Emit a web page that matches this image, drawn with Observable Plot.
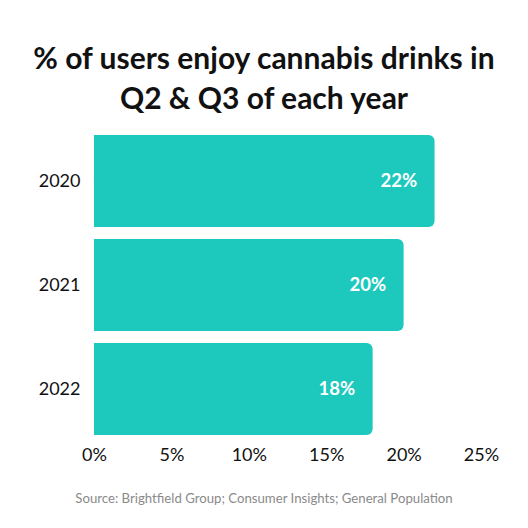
<!DOCTYPE html>
<html>
<head>
<meta charset="utf-8">
<script src="https://cdn.jsdelivr.net/npm/d3@7"></script>
<script src="https://cdn.jsdelivr.net/npm/@observablehq/plot@0.6"></script>
<style>
  html, body { margin: 0; padding: 0; background: #fff; }
  #wrap { width: 528px; height: 528px; position: relative; font-family: Lato, sans-serif; }
  #title { position: absolute; top: 37px; left: 0; width: 528px; text-align: center;
           font-weight: 700; font-size: 30px; line-height: 40px; color: #111; }
  #chart { position: absolute; top: 120px; left: 0; }
  #caption { position: absolute; top: 490px; left: 0; width: 528px; text-align: center;
             font-size: 13.2px; color: #8a8a8a; }
</style>
</head>
<body>
<div id="wrap">
  <div id="title">% of users enjoy cannabis drinks in<br>Q2 &amp; Q3 of each year</div>
  <div id="chart"></div>
  <div id="caption">Source: Brightfield Group; Consumer Insights; General Population</div>
</div>
<script>
const years = ["2020", "2021", "2022"];
const shares = [22, 20, 18];
const xTicks = [0, 5, 10, 15, 20, 25];

const data = years.map((y, i) => ({year: y, value: shares[i]}));
const barColor = "#1dc8bc";

const plot = Plot.plot({
  width: 528,
  height: 360,
  marginLeft: 94,
  marginRight: 47,
  marginTop: 14,
  marginBottom: 44,
  style: {fontFamily: "Lato, sans-serif", fontSize: "18px", color: "#111", background: "transparent"},
  x: {domain: [0, 25], ticks: xTicks, tickFormat: d => d + "%", tickSize: 0, tickPadding: 12, label: null},
  y: {domain: years, paddingInner: 0.115, paddingOuter: 0, tickSize: 0, tickPadding: 14, label: null},
  marks: [
    Plot.barX(data, {x1: 0, x2: "value", y: "year", fill: barColor, rx: 6}),
    Plot.barX(data, {x1: 0, x2: d => d.value / 2, y: "year", fill: barColor}),
    Plot.text(data, {x: "value", y: "year", text: d => d.value + "%", textAnchor: "end", dx: -18,
      fill: "white", fontWeight: 700, fontSize: 18.5})
  ]
});
document.getElementById("chart").appendChild(plot);
</script>
</body>
</html>
